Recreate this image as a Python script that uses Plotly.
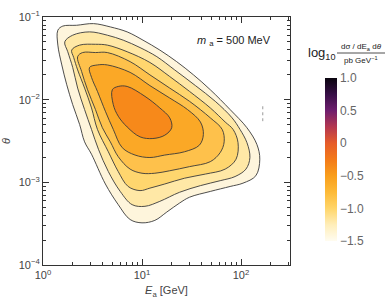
import numpy as np
import plotly.graph_objects as go

# Contour lines, stored as (log10 E_a [GeV], log10 theta)
c1_logE = [0.15,0.20,0.34,0.51,0.68,0.85,1.01,1.18,1.35,1.52,1.69,1.89,2.06,2.16,2.19,2.15,2.02,1.89,1.69,1.48,1.38,1.25,1.13,1.00,0.88,0.76,0.63,0.49,0.42,0.37,0.30,0.24,0.19,0.15]
c1_logT = [-1.16,-1.11,-1.10,-1.08,-1.12,-1.18,-1.28,-1.40,-1.54,-1.70,-1.88,-2.12,-2.34,-2.54,-2.72,-2.92,-3.01,-3.05,-3.11,-3.18,-3.25,-3.36,-3.46,-3.49,-3.45,-3.27,-3.02,-2.66,-2.51,-2.30,-2.06,-1.82,-1.58,-1.34]

c2_logE = [0.22,0.30,0.47,0.65,0.81,0.98,1.15,1.33,1.54,1.74,1.91,1.99,2.06,2.09,2.05,1.94,1.79,1.59,1.38,1.18,1.03,0.90,0.78,0.66,0.56,0.49,0.42,0.35,0.30,0.25]
c2_logT = [-1.30,-1.22,-1.18,-1.22,-1.28,-1.37,-1.48,-1.64,-1.83,-2.02,-2.22,-2.36,-2.52,-2.70,-2.84,-2.93,-2.98,-3.04,-3.12,-3.23,-3.29,-3.27,-3.11,-2.87,-2.60,-2.36,-2.12,-1.86,-1.61,-1.42]

c3_logE = [0.29,0.37,0.53,0.65,0.85,1.08,1.28,1.48,1.69,1.84,1.92,1.97,1.95,1.84,1.64,1.43,1.23,1.08,0.98,0.86,0.76,0.66,0.55,0.49,0.42,0.35,0.31]
c3_logT = [-1.40,-1.34,-1.33,-1.34,-1.42,-1.55,-1.72,-1.90,-2.10,-2.27,-2.36,-2.52,-2.72,-2.84,-2.90,-2.95,-3.02,-3.07,-3.10,-3.05,-2.87,-2.63,-2.36,-2.10,-1.86,-1.64,-1.49]

c4_logE = [0.35,0.40,0.53,0.65,0.88,1.08,1.28,1.48,1.69,1.81,1.83,1.79,1.69,1.48,1.28,1.13,1.00,0.88,0.76,0.68,0.60,0.53,0.45,0.39]
c4_logT = [-1.48,-1.43,-1.43,-1.43,-1.54,-1.70,-1.86,-2.02,-2.22,-2.36,-2.51,-2.64,-2.75,-2.81,-2.86,-2.89,-2.89,-2.84,-2.69,-2.51,-2.34,-2.12,-1.88,-1.66]

c5_logE = [0.47,0.55,0.65,0.88,1.08,1.28,1.46,1.59,1.62,1.58,1.43,1.23,1.08,0.93,0.80,0.71,0.63,0.55,0.49]
c5_logT = [-1.61,-1.58,-1.58,-1.67,-1.83,-1.98,-2.12,-2.27,-2.42,-2.55,-2.63,-2.67,-2.70,-2.67,-2.58,-2.36,-2.14,-1.90,-1.73]

c6_logE = [0.70,0.76,0.85,1.03,1.18,1.28,1.30,1.23,1.11,0.98,0.85,0.76,0.71]
c6_logT = [-1.88,-1.84,-1.84,-1.96,-2.10,-2.22,-2.34,-2.43,-2.47,-2.45,-2.33,-2.20,-2.06]

artifact_logE = [2.22, 2.22]
artifact_logT = [-2.08, -2.26]

band_colors = ["#FEF5DC", "#FFE8A6", "#FFD66E", "#FEC14B", "#FBA826", "#F7891A"]

cbar_vals = [-1.5, -1.0, -0.5, 0.0, 0.5, 1.0]
cbar_text = ["\u22121.5", "\u22121.0", "\u22120.5", "0", "0.5", "1.0"]
colorscale = [
    [0.0, "rgb(255,252,240)"], [0.1, "rgb(255,238,185)"], [0.2, "rgb(255,213,105)"],
    [0.3, "rgb(253,186,55)"], [0.4, "rgb(249,158,28)"], [0.5, "rgb(243,122,25)"],
    [0.6, "rgb(230,92,42)"], [0.7, "rgb(180,55,80)"], [0.8, "rgb(110,30,110)"],
    [0.9, "rgb(55,15,70)"], [1.0, "rgb(10,5,15)"],
]

contours = [(c1_logE, c1_logT), (c2_logE, c2_logT), (c3_logE, c3_logT),
            (c4_logE, c4_logT), (c5_logE, c5_logT), (c6_logE, c6_logT)]

fig = go.Figure()
for (lx, ly), col in zip(contours, band_colors):
    xs = list(10 ** np.array(lx)) + [10 ** lx[0]]
    ys = list(10 ** np.array(ly)) + [10 ** ly[0]]
    fig.add_trace(go.Scatter(x=xs, y=ys, mode="lines", fill="toself", fillcolor=col,
                             line=dict(color="#3a3a3a", width=0.9, shape="spline", smoothing=1.0),
                             showlegend=False, hoverinfo="skip"))

fig.add_trace(go.Scatter(x=10 ** np.array(artifact_logE), y=10 ** np.array(artifact_logT),
                         mode="lines", line=dict(color="#999", width=1, dash="dot"),
                         showlegend=False, hoverinfo="skip"))

# colorbar carrier
fig.add_trace(go.Scatter(x=[1e-5], y=[1e-8], mode="markers",
                         marker=dict(color=[-1.5], colorscale=colorscale, cmin=-1.5, cmax=1.0,
                                     showscale=True,
                                     colorbar=dict(x=(325 - 43) / 247, xanchor="left", xpad=0,
                                                   y=(265 - 159.5) / 248, yanchor="middle", ypad=0,
                                                   lenmode="pixels", len=163, thickness=12,
                                                   outlinewidth=0, ticks="", tickvals=cbar_vals,
                                                   ticktext=cbar_text, ticklabelposition="outside",
                                                   tickfont=dict(size=12, color="#666"))),
                         showlegend=False, hoverinfo="skip"))

axis_common = dict(type="log", showgrid=False, zeroline=False, showline=True, linecolor="#333",
                   linewidth=1.2, mirror="ticks", ticks="inside", ticklen=6, tickcolor="#333",
                   tickfont=dict(size=11, color="#444"), automargin=False)

x_minor = [v * 10 ** d for d in range(0, 3) for v in range(2, 10) if v * 10 ** d < 320]
y_minor = [v * 10.0 ** d for d in range(-4, -1) for v in range(2, 10)]

fig.update_xaxes(**axis_common, range=[0, 2.495],
                 tickvals=[1, 10, 100], ticktext=["10<sup>0</sup>", "10<sup>1</sup>", "10<sup>2</sup>"],
                 minor=dict(tickvals=x_minor, ticks="inside", ticklen=3, tickcolor="#333"),
                 title=dict(text="<i>E</i><sub>a</sub> [GeV]", font=dict(size=11, color="#444"), standoff=6))
fig.update_yaxes(**axis_common, range=[-4, -1],
                 tickvals=[1e-4, 1e-3, 1e-2, 1e-1],
                 ticktext=["10<sup>\u22124</sup>", "10<sup>\u22123</sup>", "10<sup>\u22122</sup>", "10<sup>\u22121</sup>"],
                 minor=dict(tickvals=y_minor, ticks="inside", ticklen=3, tickcolor="#333"),
                 title=dict(text="<i>\u03b8</i>", font=dict(size=11, color="#444"), standoff=6))

fig.add_annotation(xref="paper", yref="paper", x=(195 - 43) / 247, y=(265 - 41) / 248,
                   xanchor="left", yanchor="middle", showarrow=False,
                   text="<i>m</i> <sub>a</sub> = 500 MeV", font=dict(size=11, color="#222"))
fig.add_annotation(xref="paper", yref="paper", x=(306 - 43) / 247, y=(265 - 54) / 248,
                   xanchor="left", yanchor="middle", showarrow=False,
                   text="log<sub>10</sub>", font=dict(size=13, color="#222"))
fig.add_annotation(xref="paper", yref="paper", x=(361 - 43) / 247, y=(265 - 47) / 248,
                   xanchor="center", yanchor="middle", showarrow=False,
                   text="d\u03c3 / dE<sub>a</sub> d<i>\u03b8</i>", font=dict(size=8, color="#222"))
fig.add_annotation(xref="paper", yref="paper", x=(361 - 43) / 247, y=(265 - 60) / 248,
                   xanchor="center", yanchor="middle", showarrow=False,
                   text="pb GeV<sup>\u22121</sup>", font=dict(size=8, color="#222"))
fig.add_shape(type="line", xref="paper", yref="paper", x0=(337 - 43) / 247, x1=(385 - 43) / 247,
              y0=(265 - 53) / 248, y1=(265 - 53) / 248, line=dict(color="#222", width=0.8))

fig.update_layout(width=390, height=300, margin=dict(l=43, r=100, t=17, b=35, autoexpand=False),
                  paper_bgcolor="white", plot_bgcolor="white",
                  font=dict(family="Liberation Sans, Arial, sans-serif"))

fig.write_html("out.html", config={"displayModeBar": False},
               post_script="document.body.style.margin='0px';document.body.style.overflow='hidden';")
